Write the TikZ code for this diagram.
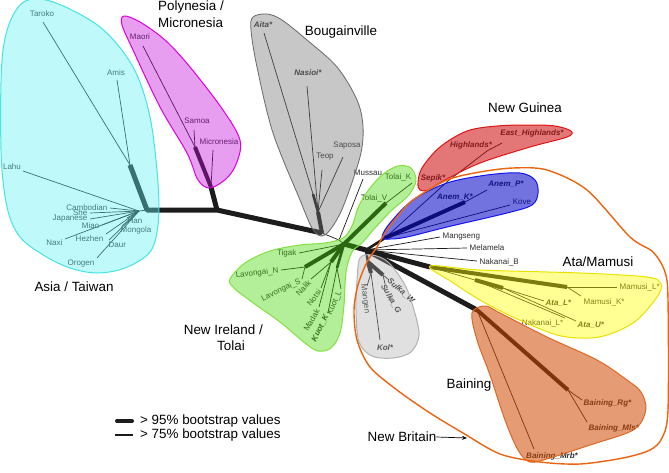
\documentclass[tikz,border=0pt]{standalone}
\usepackage{fontspec}
\setmainfont{Liberation Sans}
\usetikzlibrary{arrows.meta}
\definecolor{treec}{RGB}{28,28,28}
\definecolor{leafc}{RGB}{45,45,45}
\definecolor{cyF}{RGB}{97,242,242}
\definecolor{cyD}{RGB}{70,228,228}
\definecolor{mgF}{RGB}{195,10,218}
\definecolor{mgD}{RGB}{220,0,220}
\definecolor{grF}{RGB}{117,117,117}
\definecolor{grD}{RGB}{105,105,105}
\definecolor{gnF}{RGB}{67,217,0}
\definecolor{gnD}{RGB}{130,225,60}
\definecolor{rdF}{RGB}{205,9,9}
\definecolor{rdD}{RGB}{225,20,20}
\definecolor{blF}{RGB}{0,0,200}
\definecolor{blD}{RGB}{20,20,240}
\definecolor{ylF}{RGB}{255,255,0}
\definecolor{ylD}{RGB}{235,225,0}
\definecolor{brF}{RGB}{209,73,0}
\definecolor{brD}{RGB}{222,105,35}
\definecolor{kgF}{RGB}{169,169,169}
\definecolor{kgD}{RGB}{178,178,178}
\definecolor{orD}{RGB}{235,100,15}
\begin{document}
\begin{tikzpicture}[x=1pt,y=-1pt,line join=round,
  bb/.style={draw=treec,line width=5pt},
  tk/.style={draw=treec,line width=4pt},
  md/.style={draw=treec,line width=2.6pt},
  tn/.style={draw=treec,line width=0.7pt},
  lf/.style={font=\fontsize{8}{9}\selectfont,text=leafc,inner sep=0.5pt},
  bi/.style={font=\fontsize{8}{9}\selectfont\bfseries\itshape,text=leafc,inner sep=0.5pt},
  big/.style={font=\fontsize{13.4}{16}\selectfont,inner sep=0pt},
  region/.style={line width=1pt}]
\fill[white] (0,0) rectangle (669,472);
\useasboundingbox (0,0) rectangle (669,472);

% ---------------- internal nodes
\coordinate (A) at (147,210);
\coordinate (Aup) at (130,165);
\coordinate (Ah) at (139,211);
\coordinate (P) at (217,210);
\coordinate (P1) at (211,187);
\coordinate (P2) at (195,147);
\coordinate (B) at (322,233);
\coordinate (B1) at (318,212);
\coordinate (B2) at (313,194);
\coordinate (M) at (339,240);
\coordinate (C) at (344,244);
\coordinate (D) at (366,250);
\coordinate (G) at (385,238);
\coordinate (AK) at (465,202);
\coordinate (S) at (448,181);
\coordinate (H) at (487,151);
\coordinate (E) at (430,267);
\coordinate (E1) at (567,287);
\coordinate (E2) at (475,280);
\coordinate (E3) at (503,288);
\coordinate (F) at (477,310);
\coordinate (F1) at (568,390);
\coordinate (K) at (368,262);
\coordinate (K1) at (371,273);
\coordinate (K2) at (383,275);
\coordinate (L) at (305,267);
\coordinate (NN) at (331,262);
\coordinate (KU) at (337,268);
\coordinate (T) at (386,203);

% ---------------- leaf ends
\coordinate (eTaroko) at (43,22);
\coordinate (eAmis) at (117,80);
\coordinate (eLahu) at (23,171);
\coordinate (eCamb) at (110,208);
\coordinate (eShe) at (90,213);
\coordinate (eJap) at (90,219);
\coordinate (eMiao) at (102,225);
\coordinate (eHan) at (127,218);
\coordinate (eMong) at (122,226);
\coordinate (eNaxi) at (65,239);
\coordinate (eHez) at (106,234);
\coordinate (eDaur) at (109,240);
\coordinate (eOro) at (97,258);
\coordinate (eMaori) at (143,46);
\coordinate (eSamoa) at (194,130);
\coordinate (eMicro) at (213,150);
\coordinate (eAita) at (264,33);
\coordinate (eNas) at (307,86);
\coordinate (eTeop) at (322,170);
\coordinate (eSap) at (343,157);
\coordinate (eMus) at (363,179);
\coordinate (eTolK) at (412,183);
\coordinate (eTigak) at (299,253);
\coordinate (eLavN) at (281,270);
\coordinate (eLavS) at (302,279);
\coordinate (eNalik) at (311,279);
\coordinate (eNotsi) at (321,288);
\coordinate (eMadak) at (319,307);
\coordinate (eKuotK) at (328,313);
\coordinate (eKuotL) at (341,289);
\coordinate (eEH) at (502,143);
\coordinate (eAP) at (487,190);
\coordinate (eKove) at (510,205);
\coordinate (eMang) at (440,237);
\coordinate (eMela) at (467,248);
\coordinate (eNakB) at (477,261);
\coordinate (eML) at (617,287);
\coordinate (eMK) at (581,296);
\coordinate (eAL) at (544,301);
\coordinate (eAU) at (576,321);
\coordinate (eNL) at (565,318);
\coordinate (eRg) at (582,400);
\coordinate (eMls) at (587,422);
\coordinate (eMrb) at (534,449);
\coordinate (eMangen) at (367,286);
\coordinate (eKol) at (380,340);
\coordinate (eSW) at (389,280);
\coordinate (eSG) at (385,284);

% ---------------- thick branches
\draw[bb] (Aup) -- (A) -- (P) -- (B);
\draw[bb] (P) -- (P1);
\draw[tk] (P1) -- (P2);
\draw[tk] (B) -- (B1);
\draw[md] (B1) -- (B2);
\draw[bb] (C) -- (D);
\draw[md] (D) -- (G);
\draw[tk] (G) -- (AK);
\draw[bb] (D) -- (E);
\draw[tk] (E) -- (E1);
\draw[tk] (E2) -- (E3);
\draw[bb] (D) -- (F);
\draw[tk] (F) -- (F1);
\draw[md] (D) -- (K);
\draw[tk] (K) -- (K1);
\draw[tk] (K) -- (K2);
\draw[tk] (C) -- (L);
\draw[tk] (C) -- (NN);
\draw[md] (C) -- (KU);
\draw[tk] (C) -- (T);

% ---------------- thin branches
\draw[tn] (Ah) -- (A);
\foreach \e in {eLahu,eCamb,eShe,eJap,eMiao,eHan,eMong,eNaxi,eHez,eDaur,eOro} \draw[tn] (Ah) -- (\e);
\draw[tn] (Aup) -- (eTaroko);
\draw[tn] (Aup) -- (eAmis);
\draw[tn] (P2) -- (eMaori);
\draw[tn] (P2) -- (eSamoa);
\draw[tn] (P1) -- (eMicro);
\draw[tn] (B2) -- (eAita);
\draw[tn] (B1) -- (eNas);
\draw[tn] (B1) -- (eTeop);
\draw[tn] (B1) -- (eSap);
\draw[tn] (B) -- (M) -- (C);
\draw[tn] (M) -- (eMus);
\draw[tn] (T) -- (eTolK);
\draw[tn] (C) -- (eTigak);
\draw[tn] (L) -- (eLavN);
\draw[tn] (L) -- (eLavS);
\draw[tn] (NN) -- (eNalik);
\draw[tn] (NN) -- (eNotsi);
\draw[tn] (NN) -- (eMadak);
\draw[tn] (KU) -- (eKuotK);
\draw[tn] (KU) -- (eKuotL);
\draw[tn] (G) -- (S) -- (H) -- (eEH);
\draw[tn] (AK) -- (eAP);
\draw[tn] (G) -- (eKove);
\draw[tn] (D) -- (eMang);
\draw[tn] (D) -- (eMela);
\draw[tn] (D) -- (eNakB);
\draw[tn] (E1) -- (eML);
\draw[tn] (E1) -- (eMK);
\draw[tn] (E) -- (E2);
\draw[tn] (E3) -- (eAL);
\draw[tn] (E3) -- (eAU);
\draw[tn] (E2) -- (eNL);
\draw[tn] (F1) -- (eRg);
\draw[tn] (F1) -- (eMls);
\draw[tn] (F) -- (eMrb);
\draw[tn] (K1) -- (eMangen);
\draw[tn] (K1) -- (eKol);
\draw[tn] (K2) -- (eSW);
\draw[tn] (K2) -- (eSG);

% ---------------- leaf labels
\node[lf] (nTaroko) at (42,14) {Taroko};
\node[lf] (nAmis) at (116,73) {Amis};
\node[lf] (nLahu) at (12,167) {Lahu};
\node[lf,anchor=east] (nCamb) at (108,208) {Cambodian};
\node[lf,anchor=east] (nShe) at (88,213) {She};
\node[lf,anchor=east] (nJap) at (88,219) {Japanese};
\node[lf,anchor=east] (nMiao) at (100,226) {Miao};
\node[lf,anchor=west] (nHan) at (127,221) {Han};
\node[lf,anchor=west] (nMong) at (120,230) {Mongola};
\node[lf,anchor=east] (nNaxi) at (63,243) {Naxi};
\node[lf,anchor=east] (nHez) at (104,239) {Hezhen};
\node[lf,anchor=west] (nDaur) at (108,245) {Daur};
\node[lf,anchor=east] (nOro) at (95,264) {Orogen};
\node[lf] (nMaori) at (140,37) {Maori};
\node[lf] (nSamoa) at (197,121) {Samoa};
\node[lf] (nMicro) at (219,142) {Micronesia};
\node[bi] (nAita) at (263,25) {Aita*};
\node[bi] (nNas) at (308,73) {Nasioi*};
\node[lf] (nTeop) at (325,157) {Teop};
\node[lf] (nSap) at (347,146) {Saposa};
\node[lf] (nMus) at (368,173) {Mussau};
\node[lf] (nTolK) at (398,177) {Tolai\_K};
\node[lf] (nTolV) at (374,198) {Tolai\_V};
\node[lf,anchor=east] (nTigak) at (297,253) {Tigak};
\node[lf,anchor=east,rotate=6] (nLavN) at (279,271) {Lavongai\_N};
\node[lf,anchor=east,rotate=25] (nLavS) at (301,281) {Lavongai\_S};
\node[lf,anchor=east,rotate=47] (nNalik) at (310,281) {Nalik};
\node[lf,anchor=east,rotate=53] (nNotsi) at (320,290) {Notsi};
\node[lf,anchor=east,rotate=60] (nMadak) at (318,309) {Madak};
\node[bi,anchor=east,rotate=63] (nKuotK) at (327,315) {Kuot\_K};
\node[lf,anchor=east,rotate=67] (nKuotL) at (340,291) {Kuot\_L};
\node[bi] (nEH) at (532,133) {East\_Highlands*};
\node[bi] (nHigh) at (471,145) {Highlands*};
\node[bi,anchor=east] (nSepik) at (446,178) {Sepik*};
\node[bi] (nAK) at (455,197) {Anem\_K*};
\node[bi] (nAP) at (506,184) {Anem\_P*};
\node[lf] (nKove) at (522,202) {Kove};
\node[lf,anchor=west] (nMang) at (442,237) {Mangseng};
\node[lf,anchor=west] (nMela) at (469,248) {Melamela};
\node[lf,anchor=west] (nNakB) at (479,262) {Nakanai\_B};
\node[lf,anchor=west] (nML) at (619,287) {Mamusi\_L*};
\node[lf,anchor=west] (nMK) at (583,302) {Mamusi\_K*};
\node[bi,anchor=west] (nAL) at (545,303) {Ata\_L*};
\node[bi,anchor=west] (nAU) at (577,325) {Ata\_U*};
\node[lf,anchor=east] (nNL) at (564,323) {Nakanai\_L*};
\node[bi,anchor=west] (nRg) at (583,403) {Baining\_Rg*};
\node[bi,anchor=west] (nMls) at (588,428) {Baining\_Mls*};
\node[bi] (nMrb) at (552,456) {Baining\_Mrb*};
\node[lf,rotate=-82] (nMangen) at (365,299) {Mangen};
\node[bi] (nKol) at (385,348) {Kol*};
\node[bi,rotate=-42] (nSW) at (401,291) {Sulka\_W};
\node[bi,rotate=-60] (nSG) at (391,299) {Sulka\_G};

% ---------------- regions
\path[region,fill=cyF,fill opacity=0.4,draw=cyD] plot[smooth cycle,tension=0.55] coordinates {(3,50) (20,5) (50,1) (100,27) (133,67) (150,117) (158,183) (158,225) (150,252) (125,268) (97,273) (70,268) (45,256) (20,237) (7,207) (1,150)};
\path[region,fill=mgF,fill opacity=0.4,draw=mgD] plot[smooth cycle,tension=0.55] coordinates {(124,16) (140,22) (165,40) (190,67) (223,110) (240,140) (237,162) (227,178) (210,188) (198,180) (187,153) (160,107) (133,50) (122,25)};
\path[region,line width=0.8pt,fill=grF,fill opacity=0.4,draw=grD] plot[smooth cycle,tension=0.55] coordinates {(253,17) (267,14) (282,20) (307,40) (337,67) (357,100) (363,127) (360,157) (343,207) (330,230) (321,236) (312,228) (300,200) (273,133) (257,67) (251,30)};
\path[region,fill=gnF,fill opacity=0.4,draw=gnD] plot[smooth cycle,tension=0.55] coordinates {(230,279) (245,263) (270,251) (300,245) (325,243) (343,238) (352,226) (358,208) (367,192) (382,175) (398,166) (411,168) (416,181) (408,196) (392,210) (375,228) (362,243) (352,252) (346,272) (344,305) (340,333) (331,348) (318,351) (305,343) (280,322) (252,302) (234,288)};
\path[region,fill=rdF,fill opacity=0.55,draw=rdD] plot[smooth cycle,tension=0.55] coordinates {(418,183) (422,168) (440,147) (467,131) (497,126) (530,125) (555,126) (571,131) (567,137) (530,147) (480,163) (445,180) (428,190) (420,190)};
\path[region,fill=blF,fill opacity=0.55,draw=blD] plot[smooth cycle,tension=0.55] coordinates {(382,237) (390,223) (413,200) (447,183) (487,175) (520,173) (535,180) (538,193) (532,205) (507,213) (447,227) (407,237) (390,239)};
\path[region,fill=ylF,fill opacity=0.42,draw=ylD] plot[smooth cycle,tension=0.55] coordinates {(430,266) (480,270) (580,273) (647,277) (661,284) (657,297) (637,320) (613,333) (590,338) (557,335) (513,317) (480,300) (452,282)};
\path[region,fill=brF,fill opacity=0.55,draw=brD] plot[smooth cycle,tension=0.55] coordinates {(472,313) (485,306) (500,313) (547,337) (597,360) (627,380) (641,392) (646,408) (640,424) (627,433) (590,445) (550,458) (530,462) (518,450) (505,420) (490,375) (477,340)};
\path[region,fill=kgF,fill opacity=0.35,draw=kgD] plot[smooth cycle,tension=0.55] coordinates {(360,258) (372,255) (388,262) (405,285) (414,310) (419,335) (411,352) (393,358) (372,356) (359,342) (356,310) (357,280)};
\path[draw=orD,line width=1.4pt] plot[smooth cycle,tension=0.5] coordinates {(377,247) (385,233) (397,217) (413,200) (447,180) (480,172) (513,168) (547,170) (587,190) (630,237) (653,252) (665,272) (668,300) (668,410) (662,438) (650,450) (623,458) (580,464) (540,462) (500,454) (463,433) (430,413) (397,390) (370,367) (357,340) (354,310) (358,285) (367,262)};

% ---------------- group labels
\node[big,anchor=west] (tPoly) at (158,7) {Polynesia /};
\node[big,anchor=west] (tMicro) at (158,23) {Micronesia};
\node[big] (tBoug) at (341,32) {Bougainville};
\node[big] (tNG) at (525,108) {New Guinea};
\node[big] (tAsia) at (74,287) {Asia / Taiwan};
\node[big] (tAta) at (598,262) {Ata/Mamusi};
\node[big] (tBain) at (469,385) {Baining};
\node[big,anchor=east] (tNI) at (263,330) {New Ireland /};
\node[big,anchor=east] (tTolai) at (245,346) {Tolai};
\node[big] (tNB) at (402,437) {New Britain};
\coordinate (NBarr) at (467,438);
\draw[line width=0.7pt,-{Stealth[length=5pt,width=4pt]}] (tNB.east) -- (NBarr);

% ---------------- legend
\coordinate (lg1a) at (117,421);
\coordinate (lg1b) at (132,421);
\coordinate (lg2a) at (115,435);
\coordinate (lg2b) at (133,435);
\draw[line width=4pt,line cap=round,draw=treec] (lg1a) -- (lg1b);
\draw[line width=1.5pt,draw=treec] (lg2a) -- (lg2b);
\node[big,anchor=west] (lgt1) at (140,421) {> 95\% bootstrap values};
\node[big,anchor=west] (lgt2) at (140,435) {> 75\% bootstrap values};
\end{tikzpicture}
\end{document}
